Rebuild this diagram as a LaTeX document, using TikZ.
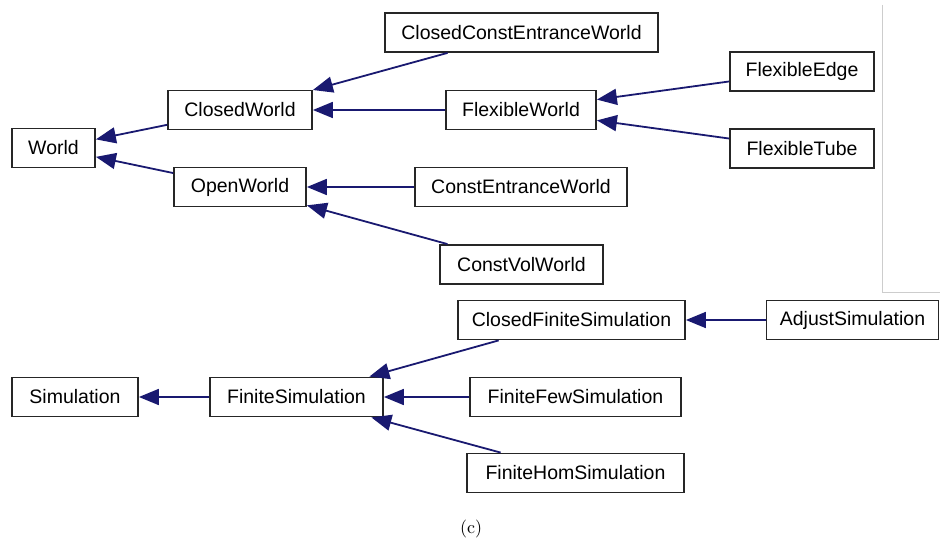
\documentclass[tikz,border=0pt]{standalone}
\usepackage{fontspec}
\newfontfamily\diagfont{Liberation Sans}
\usetikzlibrary{arrows.meta}
\definecolor{edgeblue}{RGB}{25,25,112}
\definecolor{framegray}{RGB}{205,205,205}
\begin{document}
\begin{tikzpicture}[x=1pt,y=-1pt,
  cls/.style={draw=black!85,line width=1.8pt,fill=white,inner sep=0pt,
    minimum height=39pt,font=\diagfont\fontsize{19.5}{21}\selectfont},
  arr/.style={draw=edgeblue,line width=1.8pt,-{Triangle[length=20pt,width=16pt]}}]
\useasboundingbox (0,0) rectangle (940,540);
% frame line
\draw[framegray,line width=1pt] (882,5) -- (882,292) -- (940,292);
% top diagram
\node[cls,minimum width=83pt]  (world) at (53.5,148)   {World};
\node[cls,minimum width=144pt] (cw)    at (240,110)    {ClosedWorld};
\node[cls,minimum width=132pt] (ow)    at (240,187)    {OpenWorld};
\node[cls,minimum width=273pt] (ccew)  at (521.5,32.5) {ClosedConstEntranceWorld};
\node[cls,minimum width=150pt] (fw)    at (521,110)    {FlexibleWorld};
\node[cls,minimum width=212pt] (cew)   at (521,187)    {ConstEntranceWorld};
\node[cls,minimum width=163pt] (cvw)   at (521.5,264.5){ConstVolWorld};
\node[cls,minimum width=144pt] (fe)    at (802,71.5)   {FlexibleEdge};
\node[cls,minimum width=144pt] (ft)    at (802,148.5)  {FlexibleTube};
\draw[arr] (cw) -- (world);
\draw[arr] (ow) -- (world);
\draw[arr] (ccew) -- (cw);
\draw[arr] (fw) -- (cw);
\draw[arr] (cew) -- (ow);
\draw[arr] (cvw) -- (ow);
\draw[arr] (fe) -- (fw);
\draw[arr] (ft) -- (fw);
% bottom diagram
\node[cls,minimum width=126pt] (sim) at (75,397)    {Simulation};
\node[cls,minimum width=173pt] (fs)  at (296.5,397) {FiniteSimulation};
\node[cls,minimum width=227pt] (cfs) at (571.5,320) {ClosedFiniteSimulation};
\node[cls,minimum width=211pt] (ffs) at (575.5,397) {FiniteFewSimulation};
\node[cls,minimum width=217pt] (fhs) at (575.5,473) {FiniteHomSimulation};
\node[cls,minimum width=172pt] (adj) at (852.5,320) {AdjustSimulation};
\draw[arr] (fs) -- (sim);
\draw[arr] (cfs) -- (fs);
\draw[arr] (ffs) -- (fs);
\draw[arr] (fhs) -- (fs);
\draw[arr] (adj) -- (cfs);
% caption
\node[scale=1.8] (cap) at (471,529) {(c)};
\end{tikzpicture}
\end{document}
